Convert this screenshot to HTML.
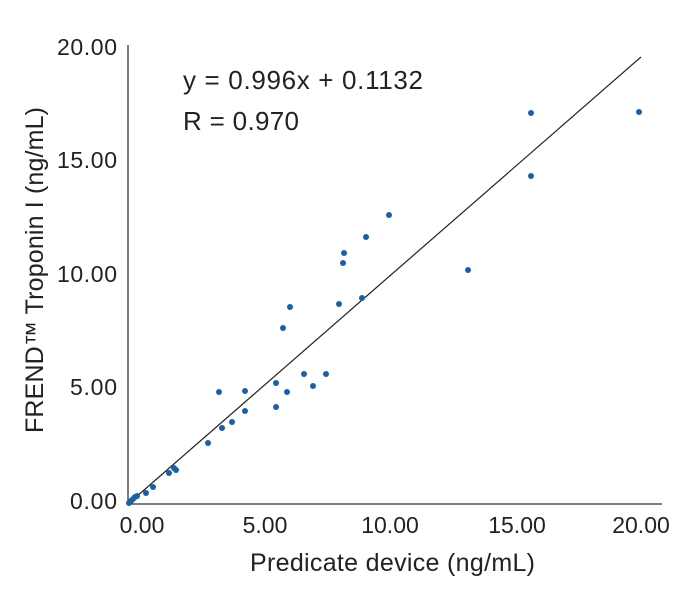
<!DOCTYPE html>
<html><head><style>body{margin:0;background:#fff}svg{display:block}</style></head><body>
<svg width="700" height="589" viewBox="0 0 700 589" font-family="Liberation Sans, sans-serif" fill="#222">
<line x1="128" y1="45" x2="128" y2="504" stroke="#333" stroke-width="1.3"/>
<line x1="128" y1="504" x2="662" y2="504" stroke="#333" stroke-width="1.3"/>
<line x1="128" y1="504" x2="641" y2="57" stroke="#222" stroke-width="1.2"/>
<g font-size="23" text-anchor="end">
<text x="117" y="55" textLength="60">20.00</text><text x="117" y="168" textLength="60">15.00</text><text x="117" y="282" textLength="60">10.00</text><text x="117" y="395" textLength="47">5.00</text><text x="117" y="509" textLength="47">0.00</text>
</g>
<g font-size="23" text-anchor="middle">
<text x="142" y="533">0.00</text><text x="265" y="533">5.00</text><text x="390" y="533">10.00</text><text x="517" y="533">15.00</text><text x="641" y="533">20.00</text>
</g>
<text x="250" y="571" font-size="25" textLength="285">Predicate device (ng/mL)</text>
<text transform="translate(43,433) rotate(-90)" font-size="25" textLength="326">FREND™ Troponin I (ng/mL)</text>
<text x="183" y="89" font-size="26" textLength="240">y = 0.996x + 0.1132</text>
<text x="183" y="130" font-size="26" textLength="116">R = 0.970</text>
<g fill="#1a5fa8">
<circle cx="129" cy="503" r="3"/><circle cx="131" cy="501" r="3"/><circle cx="133" cy="499" r="3"/><circle cx="135" cy="497" r="3"/><circle cx="137" cy="496" r="3"/>
<circle cx="146" cy="493" r="3"/><circle cx="153" cy="487" r="3"/><circle cx="169" cy="473" r="3"/><circle cx="174" cy="468" r="3"/><circle cx="176" cy="470" r="3"/>
<circle cx="208" cy="443" r="3"/><circle cx="222" cy="428" r="3"/><circle cx="232" cy="422" r="3"/><circle cx="245" cy="411" r="3"/><circle cx="245" cy="391" r="3"/><circle cx="219" cy="392" r="3"/>
<circle cx="276" cy="407" r="3"/><circle cx="276" cy="383" r="3"/><circle cx="287" cy="392" r="3"/><circle cx="304" cy="374" r="3"/><circle cx="313" cy="386" r="3"/><circle cx="326" cy="374" r="3"/>
<circle cx="283" cy="328" r="3"/><circle cx="290" cy="307" r="3"/><circle cx="339" cy="304" r="3"/><circle cx="362" cy="298" r="3"/><circle cx="343" cy="263" r="3"/><circle cx="344" cy="253" r="3"/>
<circle cx="366" cy="237" r="3"/><circle cx="389" cy="215" r="3"/><circle cx="468" cy="270" r="3"/><circle cx="531" cy="113" r="3"/><circle cx="531" cy="176" r="3"/><circle cx="639" cy="112" r="3"/>
</g>
</svg>
</body></html>
